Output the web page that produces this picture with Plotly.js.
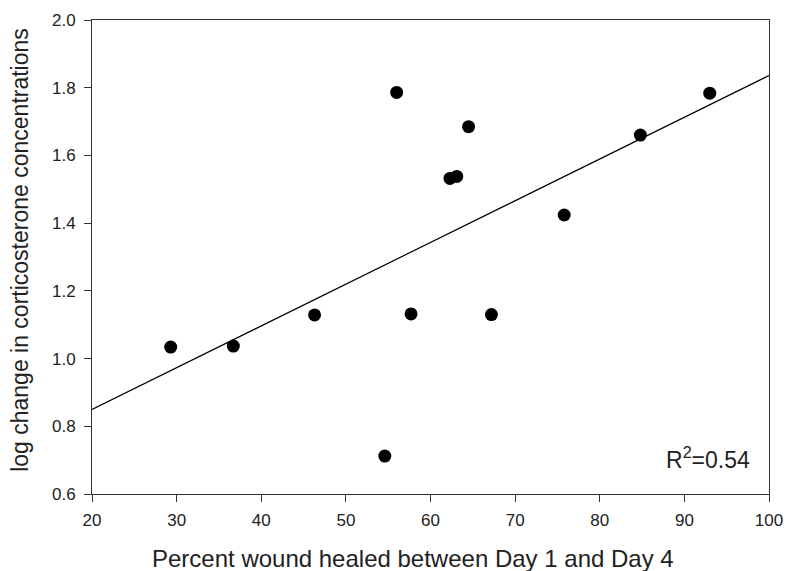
<!DOCTYPE html>
<html>
<head>
<meta charset="utf-8">
<script src="https://cdn.plot.ly/plotly-3.0.1.min.js"></script>
<style>html,body{margin:0;padding:0;background:#fff;}#chart{width:788px;height:571px;}</style>
</head>
<body>
<div id="chart"></div>
<script>
const percentHealed = [29.3, 36.7, 46.3, 54.6, 56.0, 57.7, 62.3, 63.1, 64.5, 67.2, 75.8, 84.8, 93.0];
const logCortChange = [1.034, 1.037, 1.129, 0.712, 1.786, 1.132, 1.532, 1.538, 1.685, 1.130, 1.424, 1.660, 1.784];
const fitX = [20, 100];
const fitY = [0.850, 1.836];
const xTicks = [20, 30, 40, 50, 60, 70, 80, 90, 100];
const yTicks = [0.6, 0.8, 1.0, 1.2, 1.4, 1.6, 1.8, 2.0];
const xTitle = 'Percent wound healed between Day 1 and Day 4';
const yTitle = 'log change in corticosterone concentrations';
const rSquaredLabel = "R<sup>2</sup>=0.54";

const font = "Liberation Sans, Arial, sans-serif";

const traces = [
  {x: fitX, y: fitY, type: 'scatter', mode: 'lines', line: {color: '#000', width: 1.2}, hoverinfo: 'skip'},
  {x: percentHealed, y: logCortChange, type: 'scatter', mode: 'markers',
   marker: {color: '#000', size: 13, line: {width: 0}}}
];

const layout = {
  width: 788, height: 571,
  margin: {l: 92, r: 19, t: 20, b: 77},
  paper_bgcolor: '#fff', plot_bgcolor: '#fff',
  showlegend: false,
  font: {family: font, color: '#222', size: 17},
  xaxis: {
    range: [20, 100], tickvals: xTicks, ticktext: xTicks.map(String),
    ticks: 'outside', ticklen: 7, tickwidth: 1, tickcolor: '#333',
    ticklabelstandoff: 4,
    showline: true, linecolor: '#333', linewidth: 1, mirror: true,
    showgrid: false, zeroline: false,
    tickfont: {size: 17, family: font, color: '#222'}
  },
  yaxis: {
    range: [0.6, 2.0], tickvals: yTicks, ticktext: yTicks.map(v => v.toFixed(1)),
    ticks: 'outside', ticklen: 7, tickwidth: 1, tickcolor: '#333',
    ticklabelstandoff: 5,
    showline: true, linecolor: '#333', linewidth: 1, mirror: true,
    showgrid: false, zeroline: false,
    tickfont: {size: 17, family: font, color: '#222'}
  },
  annotations: [
    {text: xTitle, xref: 'paper', yref: 'paper', x: 0.474, y: -0.137,
     xanchor: 'center', yanchor: 'middle', showarrow: false,
     font: {size: 24, family: font, color: '#222'}},
    {text: yTitle, xref: 'paper', yref: 'paper', x: -0.1064, y: 0.515, textangle: -90,
     xanchor: 'center', yanchor: 'middle', showarrow: false,
     font: {size: 23, family: font, color: '#222'}},
    {text: rSquaredLabel, xref: 'paper', yref: 'paper', x: 0.975, y: 0.075,
     xanchor: 'right', yanchor: 'middle', showarrow: false,
     font: {size: 23, family: font, color: '#222'}}
  ]
};

Plotly.newPlot('chart', traces, layout, {displayModeBar: false, staticPlot: true});
</script>
</body>
</html>
